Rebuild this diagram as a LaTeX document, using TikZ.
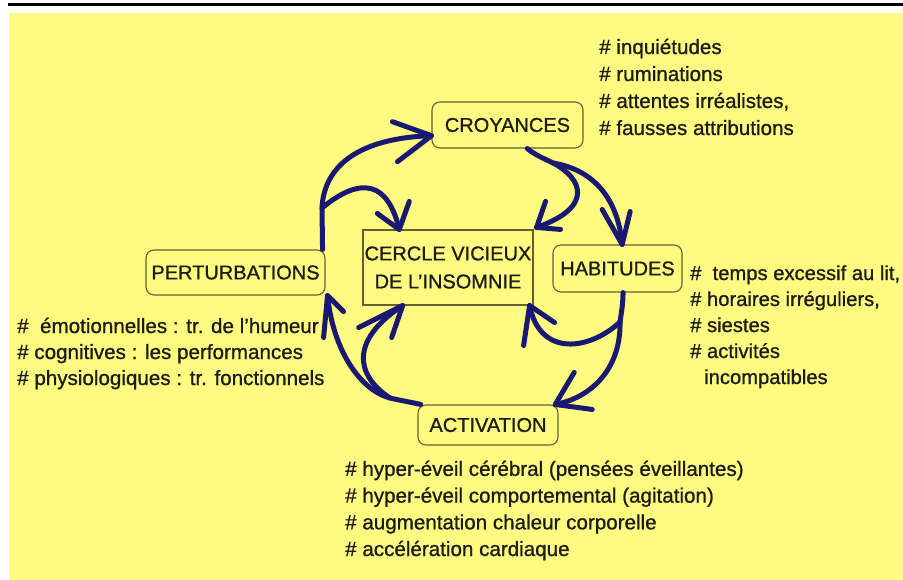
\documentclass[tikz,border=0pt]{standalone}
\usepackage{fontspec}
\setmainfont{Liberation Sans}[FakeBold=0.9]
\usetikzlibrary{calc}
\definecolor{pad}{RGB}{255,250,128}
\definecolor{ink}{RGB}{25,25,115}
\definecolor{frame}{RGB}{100,95,55}
\definecolor{txt}{RGB}{28,28,28}
\begin{document}
\begin{tikzpicture}[x=1pt,y=-1pt,
  every node/.style={text=txt},
  label box/.style={draw=frame, line width=1.1pt, rounded corners=8pt, fill=pad,
    inner sep=0pt, font=\fontsize{20}{23}\selectfont},
  core box/.style={draw=frame, line width=1.1pt, fill=pad, align=center,
    inner sep=0pt, font=\fontsize{20}{28}\selectfont},
  note list/.style={anchor=base west, align=left, inner sep=0pt},
  flow/.style={draw=ink, line width=5pt, line cap=round, line join=round},
]
\useasboundingbox (0,0) rectangle (903,580);
\fill[white] (0,0) rectangle (903,580);
\draw[line width=3pt] (8,5) -- (903,5);
\fill[pad] (9,13) rectangle (903,580);

% the five stages
\node[label box, minimum width=151pt, minimum height=46pt] (croy) at (507.5,125) {CROYANCES};
\node[core box, minimum width=170pt, minimum height=75pt] (core) at (448,267.5) {CERCLE VICIEUX\\DE L'INSOMNIE};
\node[label box, minimum width=179pt, minimum height=45pt] (pert) at (235.5,272.5) {PERTURBATIONS};
\node[label box, minimum width=129pt, minimum height=47pt] (habit) at (617.5,268.5) {HABITUDES};
\node[label box, minimum width=140pt, minimum height=40pt] (activ) at (488,425) {ACTIVATION};

% notes beside each stage (placed by the baseline of their last line)
\node[note list, font=\fontsize{20.6}{27}\selectfont] (worries) at (599,135)
  {\#~inquiétudes\\\# ruminations\\\# attentes irréalistes,\\\# fausses attributions};
\node[note list, font=\fontsize{20.2}{26}\selectfont] (habits) at (690,384)
  {\#~~temps excessif au lit,\\\# horaires irréguliers,\\\# siestes\\\# activités\\\hspace*{14pt}incompatibles};
\node[note list, font=\fontsize{20.6}{26}\selectfont] (effects) at (17,385)
  {\#~~émotionnelles : tr. de l'humeur\\\# cognitives : les performances\\\# physiologiques : tr. fonctionnels};
\node[note list, font=\fontsize{20.6}{26.7}\selectfont] (arousal) at (345,556)
  {\# hyper-éveil cérébral (pensées éveillantes)\\\# hyper-éveil comportemental (agitation)\\\# augmentation chaleur corporelle\\\# accélération cardiaque};

% perturbations -> croyances, with a branch into the core
\coordinate (fork1) at (322,208);
\draw[flow] ([xshift=-3pt]pert.north east) -- (fork1)
  .. controls (324,165) and (360,138) .. (croy.188);
\draw[flow] (croy.188) -- ++(-39,-14) (croy.188) -- ++(-34,26);
\draw[flow] (fork1) .. controls (350,185) and (385,170) .. (core.142);
\draw[flow] (core.142) -- ++(-22,-16) (core.142) -- ++(10,-28);

% croyances -> core and habitudes
\coordinate (fork2) at (553,163);
\coordinate (tipc) at ([shift={(3pt,2pt)}]core.north east);
\draw[flow] (croy.-50) .. controls (535,155) and (545,159) .. (fork2)
  .. controls (582,178) and (595,207) .. (tipc);
\draw[flow] (tipc) -- ++(9,-26) (tipc) -- ++(24,2);
\draw[flow] (fork2) .. controls (595,170) and (618,200) .. (habit.79);
\draw[flow] (habit.79) -- ++(-20,-35) (habit.79) -- ++(8,-33);

% habitudes -> core and activation
\coordinate (fork3) at (620,322);
\draw[flow] (habit.-77) .. controls (623,305) and (621,315) .. (fork3);
\draw[flow] (fork3) .. controls (590,350) and (540,358) .. (core.-25);
\draw[flow] (core.-25) -- ++(25,17) (core.-25) -- ++(-6,40);
\draw[flow] (fork3) .. controls (621,370) and (590,398) .. (activ.17);
\draw[flow] (activ.17) -- ++(19,-32) (activ.17) -- ++(37,5);

% activation -> perturbations and core
\coordinate (fork4) at (390,398);
\coordinate (tipp) at ([xshift=2pt]pert.south east);
\draw[flow] (activ.163) .. controls (410,402) and (398,400) .. (fork4)
  .. controls (360,390) and (333,350) .. (tipp);
\draw[flow] (tipp) -- ++(16,16) (tipp) -- ++(-4,42);
\draw[flow] (fork4) .. controls (355,375) and (350,340) .. (core.-140);
\draw[flow] (core.-140) -- ++(-44,22) (core.-140) -- ++(-11,32);
\end{tikzpicture}
\end{document}
